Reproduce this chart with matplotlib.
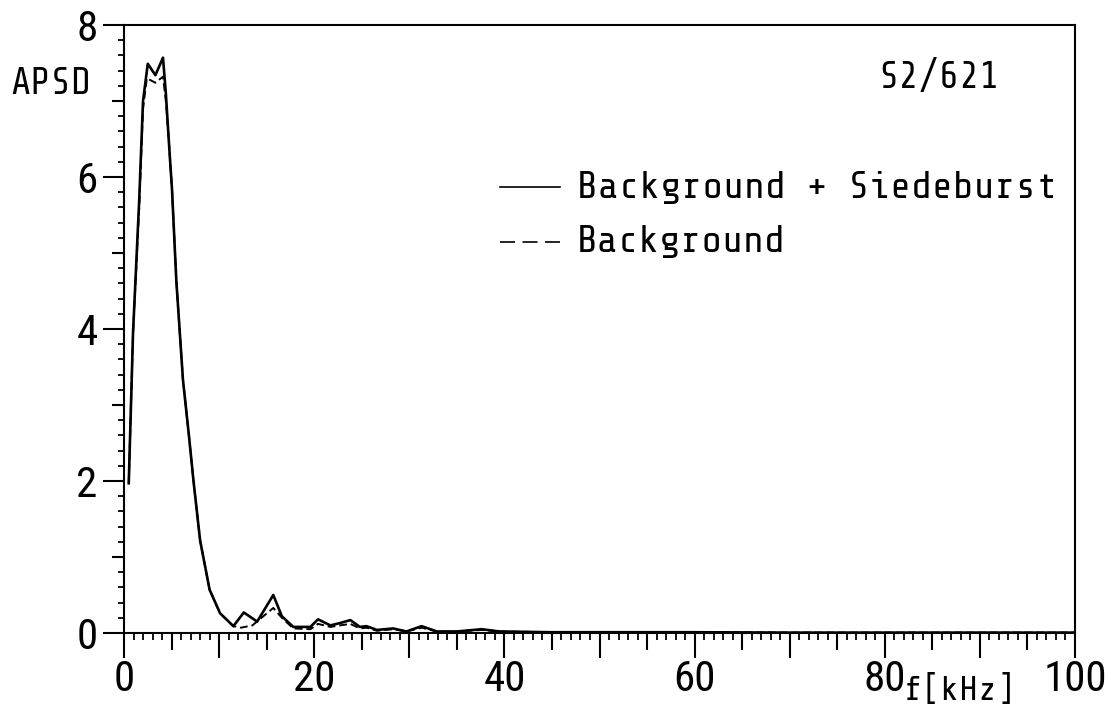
"""APSD spectrum S2/621: background vs background + Siedeburst."""

import matplotlib

matplotlib.use("Agg")
import matplotlib.pyplot as plt
from matplotlib.lines import Line2D
from matplotlib.ticker import FixedLocator, NullFormatter, FuncFormatter

# solid curve: Background + Siedeburst
f_burst = [0.5, 0.95, 1.6, 2.0, 2.5, 3.3, 4.1, 4.4, 4.7, 5.05, 5.5, 6.2, 6.8,
           7.3, 8.0, 9.0, 10.1, 11.5, 12.6, 14.0, 15.7, 16.6, 17.8, 19.6,
           20.4, 21.7, 22.7, 23.8, 24.8, 25.5, 26.6, 28.3, 29.7, 31.3, 32.9,
           35.0, 37.6, 39.5, 45.0, 50.0, 60.0, 70.0, 80.0, 90.0, 100.0]
apsd_burst = [1.97, 3.95, 5.7, 7.0, 7.49, 7.34, 7.57, 7.1, 6.5, 5.83, 4.64,
              3.33, 2.63, 2.01, 1.22, 0.57, 0.26, 0.09, 0.27, 0.15, 0.5, 0.22,
              0.08, 0.08, 0.18, 0.1, 0.13, 0.17, 0.08, 0.09, 0.04, 0.06, 0.02,
              0.09, 0.02, 0.02, 0.05, 0.02, 0.01, 0.01, 0.01, 0.005, 0.005,
              0.005, 0.005]

# dashed curve: Background only
f_back = [0.5, 0.95, 1.6, 2.0, 2.4, 3.3, 4.1, 4.4, 4.7, 5.05, 5.5, 6.2, 6.8,
          7.3, 8.0, 9.0, 10.1, 11.5, 12.3, 13.5, 15.7, 16.6, 17.8, 19.6,
          20.4, 21.7, 22.7, 23.8, 24.8, 25.5, 26.6, 28.3, 29.7, 31.3, 32.9,
          35.0, 37.6, 39.5, 45.0, 50.0, 60.0, 70.0, 80.0, 90.0, 100.0]
apsd_back = [1.97, 3.95, 5.6, 6.9, 7.3, 7.24, 7.32, 7.0, 6.5, 5.83, 4.64,
             3.33, 2.63, 2.01, 1.22, 0.57, 0.26, 0.09, 0.07, 0.1, 0.33, 0.2,
             0.06, 0.05, 0.12, 0.08, 0.1, 0.12, 0.06, 0.07, 0.03, 0.05, 0.02,
             0.07, 0.02, 0.02, 0.04, 0.02, 0.01, 0.01, 0.01, 0.005, 0.005,
             0.005, 0.005]

x_labels = [0, 20, 40, 60, 80, 100]
y_labels = [0, 2, 4, 6, 8]

W, H = 1108, 718
TEXT_FONT = ["Share Tech Mono", "DejaVu Sans"]
TICK_FONT = ["Roboto Condensed", "DejaVu Sans"]
plt.rcParams["font.family"] = TEXT_FONT


def fx(px):
    return px / W


def fy(py):
    return 1 - py / H


fig = plt.figure(figsize=(W / 100, H / 100), dpi=100)
ax = fig.add_axes([fx(124), fy(633), fx(1075) - fx(124), fy(25) - fy(633)])

ax.plot(f_burst, apsd_burst, color="black", lw=1.9, solid_joinstyle="round")
ax.plot(f_back, apsd_back, color="black", lw=1.4, ls=(0, (4, 2)))

ax.set_xlim(0, 100)
ax.set_ylim(0, 8)
for side in ("left", "bottom", "top", "right"):
    ax.spines[side].set_linewidth(1.5)

# x: long ticks every 10, labels every 20, minor every 1
ax.xaxis.set_major_locator(FixedLocator(range(0, 101, 10)))
ax.xaxis.set_major_formatter(
    FuncFormatter(lambda v, p: f"{int(v)}" if int(v) in x_labels else ""))
ax.xaxis.set_minor_locator(FixedLocator([v for v in range(0, 101) if v % 5]))
ax.tick_params(axis="x", which="major", length=18, width=1.5, pad=1,
               labelsize=31, direction="out")
ax.tick_params(axis="x", which="minor", length=5, width=1.3, direction="out")

# y: long ticks every 2, minor every 0.2
ax.yaxis.set_major_locator(FixedLocator(y_labels))
ax.yaxis.set_minor_locator(FixedLocator(
    [i / 5 for i in range(0, 41) if i % 5]))
ax.tick_params(axis="y", which="major", length=15, width=1.5, pad=4,
               labelsize=31, direction="out")
ax.tick_params(axis="y", which="minor", length=4.5, width=1.3, direction="out")
for lab in ax.get_xticklabels() + ax.get_yticklabels():
    lab.set_family(TICK_FONT)

# medium ticks: x at 5s, y at odd integers
secx = ax.secondary_xaxis("bottom")
secx.set_xticks(range(5, 100, 10))
secx.xaxis.set_major_formatter(NullFormatter())
secx.tick_params(length=12, width=1.5, direction="out")
secx.spines["bottom"].set_visible(False)

secy = ax.secondary_yaxis("left")
secy.set_yticks([1, 3, 5, 7])
secy.yaxis.set_major_formatter(NullFormatter())
secy.tick_params(length=9, width=1.5, direction="out")
secy.spines["left"].set_visible(False)

# labels and annotations
fig.text(fx(10), fy(83), "APSD", fontsize=27, va="center", ha="left")
fig.text(fx(960), fy(690), "f[kHz]", fontsize=25, va="center", ha="center")
fig.text(fx(939), fy(77), "S2/621", fontsize=27, va="center", ha="center")

fig.add_artist(Line2D([fx(500), fx(560)], [fy(187), fy(187)],
                      color="black", lw=1.2))
fig.add_artist(Line2D([fx(500), fx(560)], [fy(242), fy(242)],
                      color="black", lw=1.2, ls=(0, (9, 4.5))))
fig.text(fx(577), fy(187), "Background + Siedeburst", fontsize=27.8,
         va="center", ha="left")
fig.text(fx(577), fy(242), "Background", fontsize=27.8, va="center",
         ha="left")

fig.savefig("out.png", dpi=100)
